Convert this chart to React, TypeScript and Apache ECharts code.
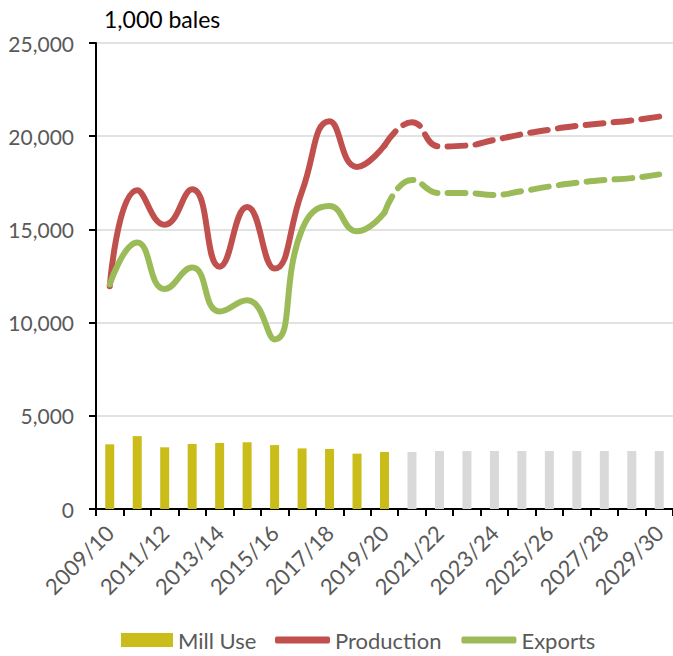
import React, { useEffect, useRef } from 'react';
import * as echarts from 'echarts';

const categories = [
  '2009/10', '2010/11', '2011/12', '2012/13', '2013/14', '2014/15', '2015/16',
  '2016/17', '2017/18', '2018/19', '2019/20', '2020/21', '2021/22', '2022/23',
  '2023/24', '2024/25', '2025/26', '2026/27', '2027/28', '2028/29', '2029/30',
];
// Mill use for every year; the first 11 are historical, the rest projections
const millUse = [
  3470, 3910, 3310, 3490, 3540, 3580, 3430, 3250, 3220, 2970, 3060,
  3060, 3110, 3110, 3110, 3110, 3110, 3110, 3110, 3110, 3110,
];
const historicalCount = 11;
// 2009/10 .. 2019/20
const productionHistorical = [11950, 17100, 15250, 17150, 13000, 16200, 12900, 17050, 20800, 18350, 19500];
const exportsHistorical = [12050, 14300, 11800, 12950, 10600, 11200, 9100, 15000, 16250, 14900, 15900];
// 2019/20 .. 2029/30
const productionProjected = [19500, 20750, 19450, 19500, 19800, 20100, 20350, 20550, 20700, 20850, 21050];
const exportsProjected = [15900, 17650, 16950, 16950, 16850, 17050, 17300, 17500, 17650, 17750, 17950];

const GOLD = '#CABD1A';
const GREY_BAR = '#D9D9D9';
const RED = '#C0504D';
const GREEN = '#9BBB59';
const FONT = 'Lato';
const LABEL_COLOR = '#595959';

const padHist = (arr: number[]) => categories.map((_, i) => (i < arr.length ? arr[i] : null));
const padProj = (arr: number[]) => {
  const start = categories.length - arr.length;
  return categories.map((_, i) => (i >= start ? arr[i - start] : null));
};

export default function App() {
  const ref = useRef<HTMLDivElement>(null);
  useEffect(() => {
    if (!ref.current) return;
    const chart = echarts.init(ref.current, undefined, { renderer: 'svg' });
    const lineCommon = {
      type: 'line' as const,
      smooth: 0.5,
      symbol: 'none',
      showSymbol: false,
      connectNulls: false,
    };
    const legendText = { fontFamily: FONT, fontSize: 22, color: LABEL_COLOR };
    chart.setOption({
      animation: false,
      backgroundColor: '#ffffff',
      title: {
        text: '1,000 bales',
        left: 99,
        top: 2,
        textStyle: { fontFamily: FONT, fontSize: 23, fontWeight: 'normal', color: '#000000' },
      },
      grid: { left: 96, top: 43, width: 579, height: 466, containLabel: false },
      legend: [
        {
          data: [{ name: 'Mill Use', icon: 'rect' }],
          left: 116,
          top: 624,
          itemWidth: 52,
          itemHeight: 14,
          textStyle: legendText,
        },
        {
          data: [
            { name: 'Production', icon: 'roundRect' },
            { name: 'Exports', icon: 'roundRect' },
          ],
          left: 270,
          top: 624,
          itemWidth: 55,
          itemHeight: 7,
          itemGap: 20,
          textStyle: legendText,
        },
      ],
      xAxis: {
        type: 'category',
        data: categories,
        boundaryGap: true,
        axisLine: { lineStyle: { color: '#000000', width: 2 } },
        axisTick: { show: true, interval: 0, length: 7, lineStyle: { color: '#000000', width: 2 } },
        axisLabel: {
          interval: 1,
          rotate: 45,
          margin: 20,
          fontFamily: FONT,
          fontSize: 22,
          color: LABEL_COLOR,
        },
        splitLine: { show: false },
      },
      yAxis: {
        type: 'value',
        min: 0,
        max: 25000,
        interval: 5000,
        axisLine: { show: true, lineStyle: { color: '#000000', width: 2 } },
        axisTick: { show: true, length: 7, lineStyle: { color: '#000000', width: 2 } },
        axisLabel: {
          margin: 22,
          fontFamily: FONT,
          fontSize: 21,
          color: LABEL_COLOR,
          formatter: (v: number) => v.toLocaleString('en-US'),
        },
        splitLine: { show: true, lineStyle: { color: '#D9D9D9', width: 1.5 } },
      },
      series: [
        {
          name: 'Mill Use',
          type: 'bar',
          barWidth: 9,
          itemStyle: { color: GOLD },
          data: millUse.map((v, i) => ({
            value: v,
            itemStyle: { color: i < historicalCount ? GOLD : GREY_BAR },
          })),
          z: 1,
        },
        {
          ...lineCommon,
          name: 'Production',
          data: padHist(productionHistorical),
          lineStyle: { color: RED, width: 6, cap: 'round' },
          itemStyle: { color: RED },
          z: 3,
        },
        {
          ...lineCommon,
          name: 'Production projected',
          data: padProj(productionProjected),
          lineStyle: { color: RED, width: 6, cap: 'round', type: [18, 10] },
          itemStyle: { color: RED },
          z: 3,
        },
        {
          ...lineCommon,
          name: 'Exports',
          data: padHist(exportsHistorical),
          lineStyle: { color: GREEN, width: 6, cap: 'round' },
          itemStyle: { color: GREEN },
          z: 4,
        },
        {
          ...lineCommon,
          name: 'Exports projected',
          data: padProj(exportsProjected),
          lineStyle: { color: GREEN, width: 6, cap: 'round', type: [18, 10] },
          itemStyle: { color: GREEN },
          z: 4,
        },
      ],
    });
    return () => chart.dispose();
  }, []);
  return (
    <div
      ref={ref}
      style={{ position: 'fixed', left: 0, top: 0, width: 673, height: 656, background: '#fff' }}
    />
  );
}
